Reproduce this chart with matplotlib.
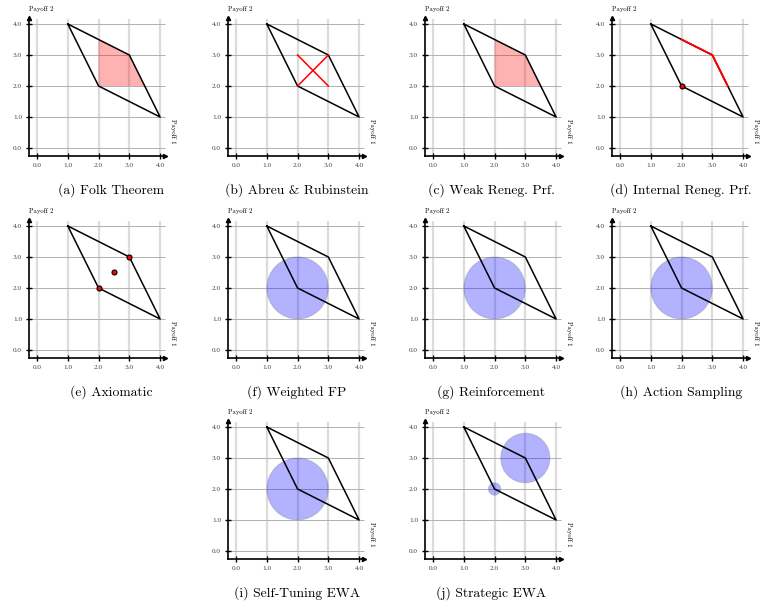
import matplotlib
matplotlib.use("Agg")
import matplotlib.pyplot as plt
from matplotlib.patches import Polygon, Circle

plt.rcParams["font.family"] = ["cmr10", "DejaVu Serif"]
plt.rcParams["axes.formatter.use_mathtext"] = True

# feasible payoff set (closed polygon)
hull_x = [1.0, 3.0, 4.0, 2.0, 1.0]
hull_y = [4.0, 3.0, 1.0, 2.0, 4.0]
ticks = [0.0, 1.0, 2.0, 3.0, 4.0]
tick_labels = ["0.0", "1.0", "2.0", "3.0", "4.0"]

# region for folk theorem / weak renegotiation proof
region_x = [2.0, 3.0, 3.5, 2.0]
region_y = [3.5, 3.0, 2.0, 2.0]
# internal renegotiation proof frontier
frontier_x = [2.0, 3.0, 3.5]
frontier_y = [3.5, 3.0, 2.0]
nash_pt = (2.0, 2.0)
axiom_x = [2.0, 3.0, 2.5]
axiom_y = [2.0, 3.0, 2.5]
# abreu & rubinstein cross
cross_a = ([2.0, 3.0], [2.0, 3.0])
cross_b = ([2.0, 3.0], [3.0, 2.0])
# learning model circles: (cx, cy, r)
circ_center = [(2.0, 2.0, 1.0)]
circ_sewa = [(3.0, 3.0, 0.8), (2.0, 2.0, 0.2)]

captions = ["(a) Folk Theorem", "(b) Abreu & Rubinstein", "(c) Weak Reneg. Prf.",
            "(d) Internal Reneg. Prf.", "(e) Axiomatic", "(f) Weighted FP",
            "(g) Reinforcement", "(h) Action Sampling", "(i) Self-Tuning EWA",
            "(j) Strategic EWA"]

W, H = 769, 608
fig = plt.figure(figsize=(W / 100, H / 100), dpi=100)

col_left = [27.8, 226.8, 423.8, 610.8]
col_center = [111, 297, 491, 681]
row_top = [14.7, 216.7, 417.7]
aw, ah = 140.0, 142.6
cap_y = [190, 392, 593]

slots = [(0, 0), (0, 1), (0, 2), (0, 3), (1, 0), (1, 1), (1, 2), (1, 3), (2, 1), (2, 2)]


def base(ax):
    ax.set_xlim(-0.3, 4.25)
    ax.set_ylim(-0.3, 4.3)
    ax.vlines(ticks, -0.2, 4.15, color="#dcdcdc", lw=1.6, zorder=0)
    ax.hlines(ticks, -0.2, 4.15, color="#b0b0b0", lw=0.7, zorder=0)
    for s in ["top", "right"]:
        ax.spines[s].set_visible(False)
    ax.spines["left"].set_position(("data", -0.26))
    ax.spines["bottom"].set_position(("data", -0.26))
    ax.spines["left"].set_bounds(-0.26, 4.2)
    ax.spines["bottom"].set_bounds(-0.26, 4.16)
    ax.spines["left"].set_linewidth(1.2)
    ax.spines["bottom"].set_linewidth(1.2)
    ax.plot([4.16], [-0.26], marker=">", color="black", ms=3, clip_on=False)
    ax.plot([-0.26], [4.2], marker="^", color="black", ms=3, clip_on=False)
    ax.set_xticks(ticks)
    ax.set_yticks(ticks)
    ax.set_xticklabels(tick_labels, family="Liberation Serif")
    ax.set_yticklabels(tick_labels, family="Liberation Serif")
    ax.tick_params(direction="inout", length=4, width=1, labelsize=5.2, pad=3,
                   labelcolor="#444444")
    ax.patch.set_alpha(0)
    ax.text(-0.25, 4.38, "Payoff 2", fontsize=4.8, ha="left", va="bottom")
    ax.text(4.42, 0.55, "Payoff 1", fontsize=4.8, rotation=270, ha="center",
            va="center", clip_on=False)
    ax.plot(hull_x, hull_y, color="black", lw=1.1, zorder=3)


axes = []
for k, (r, c) in enumerate(slots):
    ax = fig.add_axes([col_left[c] / W, 1 - (row_top[r] + ah) / H, aw / W, ah / H])
    base(ax)
    fig.text(col_center[c] / W, 1 - cap_y[r] / H, captions[k],
             fontsize=9.8, ha="center", va="center")
    axes.append(ax)

red_fill = dict(facecolor="red", alpha=0.3, edgecolor="none", zorder=2)
axes[0].add_patch(Polygon(list(zip(region_x, region_y)), **red_fill))
axes[2].add_patch(Polygon(list(zip(region_x, region_y)), **red_fill))

axes[1].plot(*cross_a, color="red", lw=1.1, zorder=4)
axes[1].plot(*cross_b, color="red", lw=1.1, zorder=4)

axes[3].plot(frontier_x, frontier_y, color="red", lw=1.4, zorder=4)
axes[3].plot([nash_pt[0]], [nash_pt[1]], "o", color="red", mec="black", ms=3.6,
             mew=0.8, zorder=5)

axes[4].plot(axiom_x, axiom_y, "o", color="red", mec="black", ms=3.6, mew=0.8,
             zorder=5, ls="none")

for ax in axes[5:9]:
    for cx, cy, rr in circ_center:
        ax.add_patch(Circle((cx, cy), rr, facecolor="blue", alpha=0.3,
                            edgecolor="gray", lw=0.8, zorder=2))
for cx, cy, rr in circ_sewa:
    axes[9].add_patch(Circle((cx, cy), rr, facecolor="blue", alpha=0.3,
                             edgecolor="gray", lw=0.8, zorder=2))

fig.savefig("out.png", dpi=100)
